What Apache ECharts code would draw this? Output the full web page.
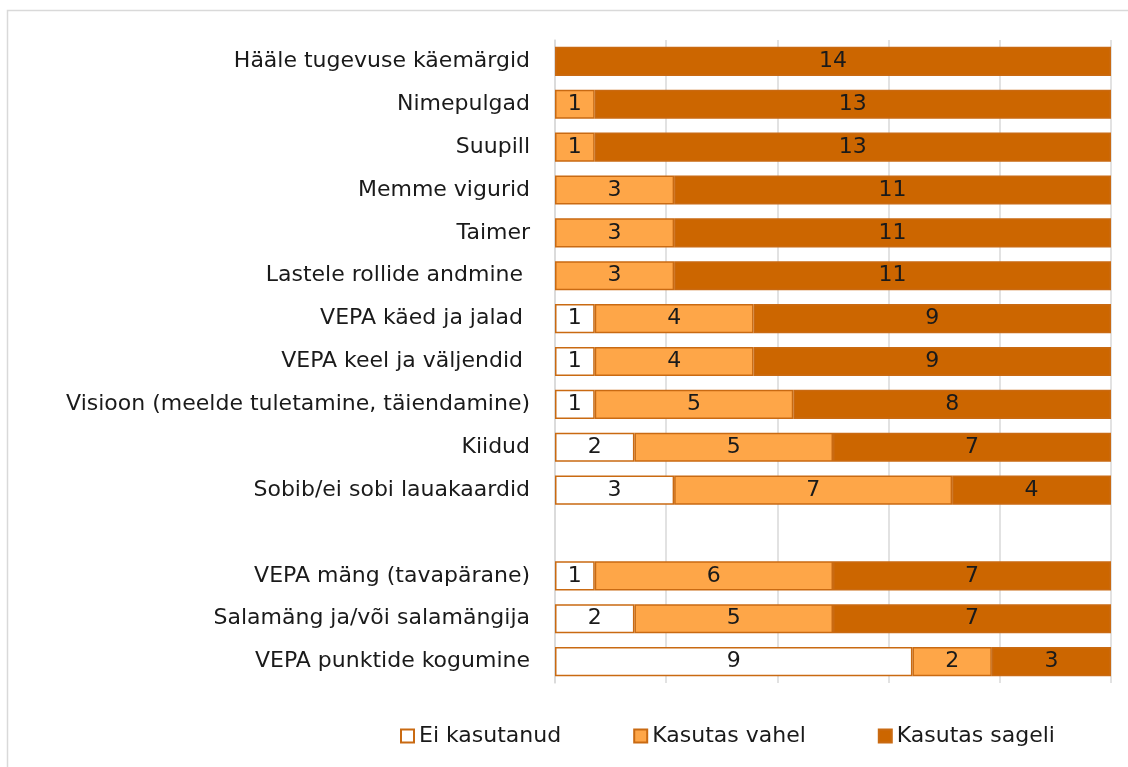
<!DOCTYPE html>
<html>
<head>
<meta charset="utf-8">
<script src="https://cdn.jsdelivr.net/npm/echarts@6/dist/echarts.min.js"></script>
<style>
  html, body { margin: 0; padding: 0; background: #fff; }
  #chart { width: 1128px; height: 767px; }
</style>
</head>
<body>
<div id="chart"></div>
<script>
// categories top to bottom, '' is the empty gap row
const categories = [
  'Hääle tugevuse käemärgid',
  'Nimepulgad',
  'Suupill',
  'Memme vigurid',
  'Taimer',
  'Lastele rollide andmine ',
  'VEPA käed ja jalad ',
  'VEPA keel ja väljendid ',
  'Visioon (meelde tuletamine, täiendamine)',
  'Kiidud',
  'Sobib/ei sobi lauakaardid',
  '',
  'VEPA mäng (tavapärane)',
  'Salamäng ja/või salamängija',
  'VEPA punktide kogumine'
];
const eiKasutanud   = [0, 0, 0, 0, 0, 0, 1, 1, 1, 2, 3, null, 1, 2, 9];
const kasutasVahel  = [0, 1, 1, 3, 3, 3, 4, 4, 5, 5, 7, null, 6, 5, 2];
const kasutasSageli = [14, 13, 13, 11, 11, 11, 9, 9, 8, 7, 4, null, 7, 7, 3];

const FONT = '"DejaVu Sans", sans-serif';
const EDGE = '#c96a12';

function clean(arr) {
  return arr.map(v => (v === 0 || v === null) ? '-' : v);
}

function makeSeries(name, data, fill) {
  return {
    name: name,
    type: 'bar',
    stack: 'total',
    barCategoryGap: '32%',
    data: clean(data),
    itemStyle: { color: fill, borderColor: EDGE, borderWidth: 1.5 },
    label: {
      show: true,
      position: 'inside',
      color: '#1a1a1a',
      fontFamily: FONT,
      fontSize: 22
    }
  };
}

const chart = echarts.init(document.getElementById('chart'));
chart.setOption({
  backgroundColor: '#fff',
  animation: false,
  graphic: [{
    type: 'rect',
    shape: { x: 7.5, y: 10.5, width: 1130, height: 770 },
    style: { fill: 'none', stroke: '#d9d9d9', lineWidth: 1.5 },
    silent: true
  }],
  grid: { left: 555, right: 17, top: 40, bottom: 84 },
  legend: {
    bottom: 15,
    left: 395,
    itemGap: 72,
    itemWidth: 13,
    itemHeight: 13,
    icon: 'rect',
    textStyle: { fontFamily: FONT, fontSize: 22, color: '#1a1a1a' },
    data: ['Ei kasutanud', 'Kasutas vahel', 'Kasutas sageli']
  },
  xAxis: {
    type: 'value',
    min: 0,
    max: 14,
    interval: 2.8,
    axisLabel: { show: false },
    axisLine: { show: false },
    axisTick: { show: false },
    splitLine: { show: true, lineStyle: { color: '#d9d9d9', width: 1.5 } }
  },
  yAxis: {
    type: 'category',
    inverse: true,
    data: categories,
    axisTick: { show: false },
    axisLine: { show: true, lineStyle: { color: '#d9d9d9', width: 1.5 } },
    axisLabel: { fontFamily: FONT, fontSize: 22, color: '#1a1a1a', margin: 25 }
  },
  series: [
    makeSeries('Ei kasutanud', eiKasutanud, '#ffffff'),
    makeSeries('Kasutas vahel', kasutasVahel, '#fea648'),
    makeSeries('Kasutas sageli', kasutasSageli, '#cc6600')
  ]
});
</script>
</body>
</html>
